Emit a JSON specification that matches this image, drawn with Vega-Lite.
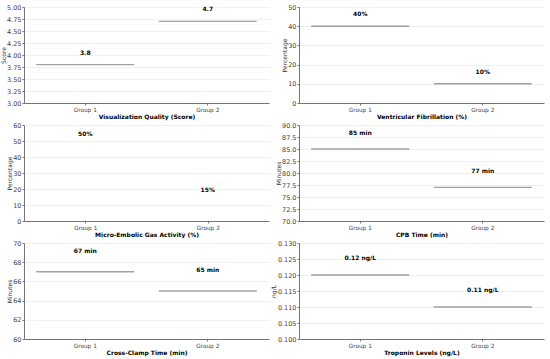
{
  "$schema": "https://vega.github.io/schema/vega-lite/v6.json",
  "padding": {"left": 0, "top": 4, "right": 5, "bottom": 3},
  "background": "white",
  "columns": 2,
  "spacing": {"row": 22, "column": 30},
  "bounds": "flush",
  "config": {
    "font": "DejaVu Sans",
    "view": {"stroke": null},
    "axis": {
      "domainColor": "#555555",
      "tickColor": "#555555",
      "labelColor": "#444444",
      "titleColor": "#333333",
      "gridColor": "#ececec",
      "gridWidth": 0.8,
      "domainWidth": 0.8,
      "tickWidth": 0.8,
      "tickSize": 2,
      "labelPadding": 1.5
    },
    "axisX": {
      "grid": false,
      "labelAngle": 0,
      "labelFontSize": 5.8,
      "titleFontSize": 6,
      "titleFontWeight": "bold",
      "titleColor": "#000000",
      "titlePadding": 1.5
    },
    "axisY": {
      "grid": true,
      "labelFontSize": 6.5,
      "labelPadding": 1,
      "titleFontSize": 6,
      "titleFontWeight": "normal",
      "titlePadding": 0.5
    }
  },
  "concat": [
    {
      "width": 245, "height": 96,
      "data": {"values": [{"group": "Group 1", "value": 3.8, "label": "3.8"}, {"group": "Group 2", "value": 4.7, "label": "4.7"}]},
      "encoding": {
        "x": {"field": "group", "type": "nominal", "scale": {"paddingInner": 0.2, "paddingOuter": 0.1}, "axis": {"title": "Visualization Quality (Score)"}},
        "y": {"field": "value", "type": "quantitative", "scale": {"domain": [3, 5], "nice": false, "zero": false}, "axis": {"title": "Score", "values": [3, 3.25, 3.5, 3.75, 4, 4.25, 4.5, 4.75, 5], "format": ".2f"}}
      },
      "layer": [
        {"mark": {"type": "tick", "orient": "horizontal", "size": 98, "thickness": 1.4, "color": "#7a7a7a"}},
        {"mark": {"type": "text", "dy": -12, "fontWeight": "bold", "fontSize": 6, "color": "#000000", "baseline": "middle"}, "encoding": {"text": {"field": "label"}}}
      ]
    },
    {
      "width": 245, "height": 96,
      "data": {"values": [{"group": "Group 1", "value": 40, "label": "40%"}, {"group": "Group 2", "value": 10, "label": "10%"}]},
      "encoding": {
        "x": {"field": "group", "type": "nominal", "scale": {"paddingInner": 0.2, "paddingOuter": 0.1}, "axis": {"title": "Ventricular Fibrillation (%)"}},
        "y": {"field": "value", "type": "quantitative", "scale": {"domain": [0, 50], "nice": false}, "axis": {"title": "Percentage", "values": [0, 10, 20, 30, 40, 50]}}
      },
      "layer": [
        {"mark": {"type": "tick", "orient": "horizontal", "size": 98, "thickness": 1.4, "color": "#7a7a7a"}},
        {"mark": {"type": "text", "dy": -12, "fontWeight": "bold", "fontSize": 6, "color": "#000000", "baseline": "middle"}, "encoding": {"text": {"field": "label"}}}
      ]
    },
    {
      "width": 245, "height": 96,
      "data": {"values": [{"group": "Group 1", "value": 50, "label": "50%"}, {"group": "Group 2", "value": 15, "label": "15%"}]},
      "encoding": {
        "x": {"field": "group", "type": "nominal", "scale": {"paddingInner": 0.2, "paddingOuter": 0.1}, "axis": {"title": "Micro-Embolic Gas Activity (%)"}},
        "y": {"field": "value", "type": "quantitative", "scale": {"domain": [0, 60], "nice": false}, "axis": {"title": "Percentage", "values": [0, 10, 20, 30, 40, 50, 60]}}
      },
      "layer": [
        {"mark": {"type": "text", "dy": -7, "fontWeight": "bold", "fontSize": 6, "color": "#000000", "baseline": "middle"}, "encoding": {"text": {"field": "label"}}}
      ]
    },
    {
      "width": 245, "height": 96,
      "data": {"values": [{"group": "Group 1", "value": 85, "label": "85 min"}, {"group": "Group 2", "value": 77, "label": "77 min"}]},
      "encoding": {
        "x": {"field": "group", "type": "nominal", "scale": {"paddingInner": 0.2, "paddingOuter": 0.1}, "axis": {"title": "CPB Time (min)"}},
        "y": {"field": "value", "type": "quantitative", "scale": {"domain": [70, 90], "nice": false, "zero": false}, "axis": {"title": "Minutes", "values": [70, 72.5, 75, 77.5, 80, 82.5, 85, 87.5, 90], "format": ".1f"}}
      },
      "layer": [
        {"mark": {"type": "tick", "orient": "horizontal", "size": 98, "thickness": 1.4, "color": "#7a7a7a"}},
        {"mark": {"type": "text", "dy": -16, "fontWeight": "bold", "fontSize": 6, "color": "#000000", "baseline": "middle"}, "encoding": {"text": {"field": "label"}}}
      ]
    },
    {
      "width": 245, "height": 96,
      "data": {"values": [{"group": "Group 1", "value": 67, "label": "67 min"}, {"group": "Group 2", "value": 65, "label": "65 min"}]},
      "encoding": {
        "x": {"field": "group", "type": "nominal", "scale": {"paddingInner": 0.2, "paddingOuter": 0.1}, "axis": {"title": "Cross-Clamp Time (min)"}},
        "y": {"field": "value", "type": "quantitative", "scale": {"domain": [60, 70], "nice": false, "zero": false}, "axis": {"title": "Minutes", "values": [60, 62, 64, 66, 68, 70]}}
      },
      "layer": [
        {"mark": {"type": "tick", "orient": "horizontal", "size": 98, "thickness": 1.4, "color": "#7a7a7a"}},
        {"mark": {"type": "text", "dy": -21, "fontWeight": "bold", "fontSize": 6, "color": "#000000", "baseline": "middle"}, "encoding": {"text": {"field": "label"}}}
      ]
    },
    {
      "width": 245, "height": 96,
      "data": {"values": [{"group": "Group 1", "value": 0.12, "label": "0.12 ng/L"}, {"group": "Group 2", "value": 0.11, "label": "0.11 ng/L"}]},
      "encoding": {
        "x": {"field": "group", "type": "nominal", "scale": {"paddingInner": 0.2, "paddingOuter": 0.1}, "axis": {"title": "Troponin Levels (ng/L)"}},
        "y": {"field": "value", "type": "quantitative", "scale": {"domain": [0.1, 0.13], "nice": false, "zero": false}, "axis": {"title": "ng/L", "values": [0.1, 0.105, 0.11, 0.115, 0.12, 0.125, 0.13], "format": ".3f"}}
      },
      "layer": [
        {"mark": {"type": "tick", "orient": "horizontal", "size": 98, "thickness": 1.4, "color": "#7a7a7a"}},
        {"mark": {"type": "text", "dy": -17, "fontWeight": "bold", "fontSize": 6, "color": "#000000", "baseline": "middle"}, "encoding": {"text": {"field": "label"}}}
      ]
    }
  ]
}
